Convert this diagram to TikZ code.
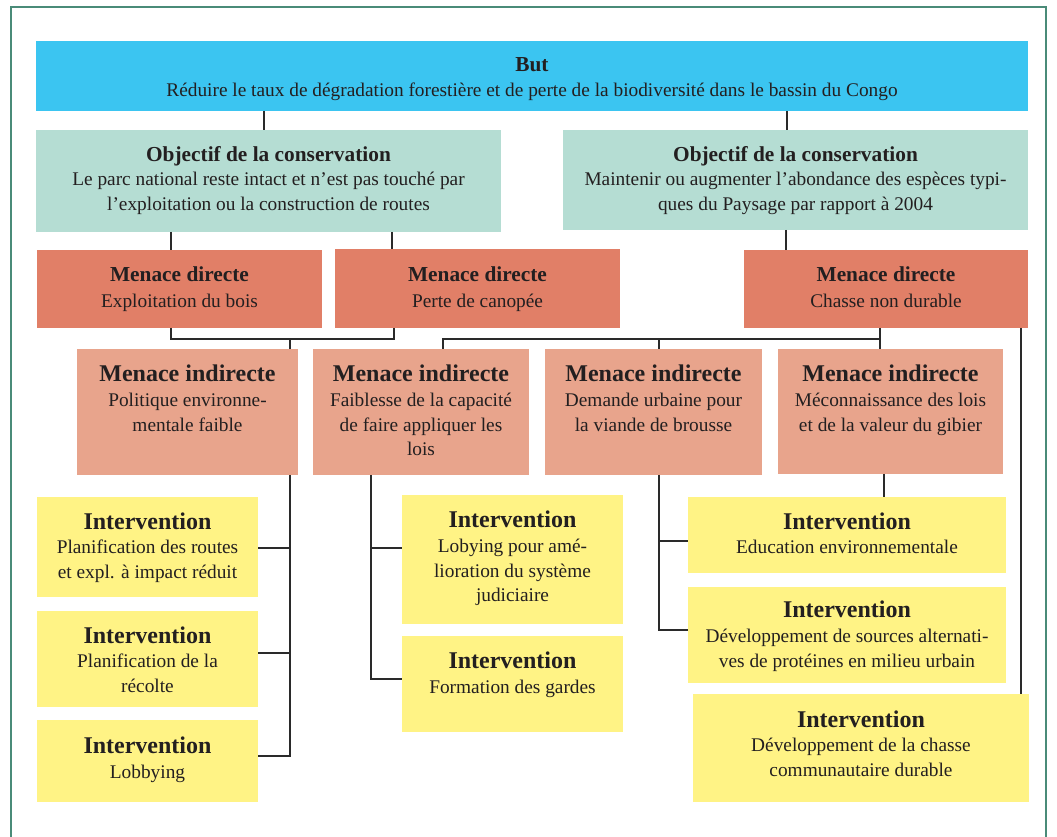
\documentclass[tikz,border=0pt]{standalone}
\usepackage{fontspec}
\setmainfont{Liberation Serif}
\usetikzlibrary{fit,calc}
\definecolor{goalc}{HTML}{3BC5F1}
\definecolor{objc}{HTML}{B5DDD3}
\definecolor{dirc}{HTML}{E17F67}
\definecolor{indc}{HTML}{E8A48C}
\definecolor{intc}{HTML}{FFF385}
\definecolor{txtc}{HTML}{231F20}
\definecolor{framec}{HTML}{4A8B78}
\definecolor{linec}{HTML}{2A2A2A}
\begin{document}
\begin{tikzpicture}[x=0.75pt,y=-0.75pt,
  box/.style={inner sep=0pt, outer sep=0pt, draw=none},
  ttl/.style={anchor=base, text=txtc, inner sep=0pt, font=\bfseries\fontsize{16}{19}\selectfont},
  ttlb/.style={anchor=base, text=txtc, inner sep=0pt, font=\bfseries\fontsize{18}{21}\selectfont},
  bdy/.style={anchor=base, text=txtc, align=center, inner sep=0pt, font=\fontsize{14.5}{18.4}\selectfont},
  conn/.style={draw=linec, line width=2pt}]
\useasboundingbox (0,0) rectangle (1057,837);
\fill[white] (0,0) rectangle (1057,837);
\draw[framec, line width=1.5pt] (11,837) -- (11,7) -- (1046,7) -- (1046,837);

% Goal
\node[box, fill=goalc, fit={(36,41) (1028,111)}] (goal) {};
\node[ttl] (goal-t) at (532,72) {But};
\node[bdy] (goal-b) at (532,97) {Réduire le taux de dégradation forestière et de perte de la biodiversité dans le bassin du Congo};

% Objectives (body anchor = baseline of last line)
\node[box, fill=objc, fit={(36,130) (501,232)}] (o1) {};
\node[ttl] (o1-t) at (268.5,162) {Objectif de la conservation};
\node[bdy] (o1-b) at (268.5,210.5) {Le parc national reste intact et n’est pas touché par\\l’exploitation ou la construction de routes};
\node[box, fill=objc, fit={(563,130) (1028,230)}] (o2) {};
\node[ttl] (o2-t) at (795.5,162) {Objectif de la conservation};
\node[bdy] (o2-b) at (795.5,210.5) {Maintenir ou augmenter l’abondance des espèces typi-\\ques du Paysage par rapport à 2004};

% Direct threats
\node[box, fill=dirc, fit={(37,250) (322,328)}] (d1) {};
\node[ttl] (d1-t) at (179.5,282) {Menace directe};
\node[bdy] (d1-b) at (179.5,308) {Exploitation du bois};
\node[box, fill=dirc, fit={(335,249) (620,328)}] (d2) {};
\node[ttl] (d2-t) at (477.5,282) {Menace directe};
\node[bdy] (d2-b) at (477.5,308) {Perte de canopée};
\node[box, fill=dirc, fit={(744,250) (1028,328)}] (d3) {};
\node[ttl] (d3-t) at (886,282) {Menace directe};
\node[bdy] (d3-b) at (886,308) {Chasse non durable};

% Indirect threats
\node[box, fill=indc, fit={(77,349) (298,475)}] (n1) {};
\node[ttlb] (n1-t) at (187.5,382) {Menace indirecte};
\node[bdy] (n1-b) at (187.5,431.5) {Politique environne-\\mentale faible};
\node[box, fill=indc, fit={(313,349) (529,475)}] (n2) {};
\node[ttlb] (n2-t) at (421,382) {Menace indirecte};
\node[bdy] (n2-b) at (421,456) {Faiblesse de la capacité\\de faire appliquer les\\lois};
\node[box, fill=indc, fit={(545,349) (762,475)}] (n3) {};
\node[ttlb] (n3-t) at (653.5,382) {Menace indirecte};
\node[bdy] (n3-b) at (653.5,431.5) {Demande urbaine pour\\la viande de brousse};
\node[box, fill=indc, fit={(778,349) (1003,474)}] (n4) {};
\node[ttlb] (n4-t) at (890.5,382) {Menace indirecte};
\node[bdy] (n4-b) at (890.5,431.5) {Méconnaissance des lois\\et de la valeur du gibier};

% Interventions
\node[box, fill=intc, fit={(37,497) (258,597)}] (v1) {};
\node[ttlb] (v1-t) at (147.5,530) {Intervention};
\node[bdy] (v1-b) at (147.5,578.5) {Planification des routes\\et expl. à impact réduit};
\node[box, fill=intc, fit={(37,611) (258,707)}] (v2) {};
\node[ttlb] (v2-t) at (147.5,643) {Intervention};
\node[bdy] (v2-b) at (147.5,692.5) {Planification de la\\récolte};
\node[box, fill=intc, fit={(37,720) (258,802)}] (v3) {};
\node[ttlb] (v3-t) at (147.5,753) {Intervention};
\node[bdy] (v3-b) at (147.5,778) {Lobbying};

\node[box, fill=intc, fit={(402,495) (623,624)}] (v4) {};
\node[ttlb] (v4-t) at (512.5,528) {Intervention};
\node[bdy] (v4-b) at (512.5,602) {Lobying pour amé-\\lioration du système\\judiciaire};
\node[box, fill=intc, fit={(402,636) (623,732)}] (v5) {};
\node[ttlb] (v5-t) at (512.5,668) {Intervention};
\node[bdy] (v5-b) at (512.5,693) {Formation des gardes};

\node[box, fill=intc, fit={(688,497) (1006,573)}] (v6) {};
\node[ttlb] (v6-t) at (847,530) {Intervention};
\node[bdy] (v6-b) at (847,554) {Education environnementale};
\node[box, fill=intc, fit={(688,587) (1006,683)}] (v7) {};
\node[ttlb] (v7-t) at (847,618) {Intervention};
\node[bdy] (v7-b) at (847,667.5) {Développement de sources alternati-\\ves de protéines en milieu urbain};
\node[box, fill=intc, fit={(693,694) (1029,802)}] (v8) {};
\node[ttlb] (v8-t) at (861,727) {Intervention};
\node[bdy] (v8-b) at (861,776.5) {Développement de la chasse\\communautaire durable};

% Connectors
\draw[conn] (goal.south -| 264,0) -- (o1.north -| 264,0);
\draw[conn] (goal.south -| 787,0) -- (o2.north -| 787,0);
\draw[conn] (o1.south -| 171,0) -- (d1.north -| 171,0);
\draw[conn] (o1.south -| 392,0) -- (d2.north -| 392,0);
\draw[conn] (o2.south -| 786,0) -- (d3.north -| 786,0);

\draw[conn] (d1.south -| 171,0) -- (171,339) -- (394,339) -- (d2.south -| 394,0);
\draw[conn] (290,339) -- (n1.north -| 290,0);

\draw[conn] (n2.north -| 443,0) -- (443,339) -- (880,339);
\draw[conn] (d3.south -| 880,0) -- (n4.north -| 880,0);
\draw[conn] (659,339) -- (n3.north -| 659,0);

\draw[conn] (n1.south -| 290,0) -- (290,757);
\draw[conn] (v1.east |- 0,548) -- (290,548);
\draw[conn] (v2.east |- 0,653) -- (290,653);
\draw[conn] (v3.east |- 0,756) -- (291,756);

\draw[conn] (n2.south -| 371,0) -- (371,679) -- (v5.west |- 0,679);
\draw[conn] (371,548) -- (v4.west |- 0,548);

\draw[conn] (n3.south -| 659,0) -- (659,630) -- (v7.west |- 0,630);
\draw[conn] (659,541) -- (v6.west |- 0,541);

\draw[conn] (n4.south -| 884,0) -- (v6.north -| 884,0);
\draw[conn] (d3.south -| 1021,0) -- (v8.north -| 1021,0);
\end{tikzpicture}
\end{document}
